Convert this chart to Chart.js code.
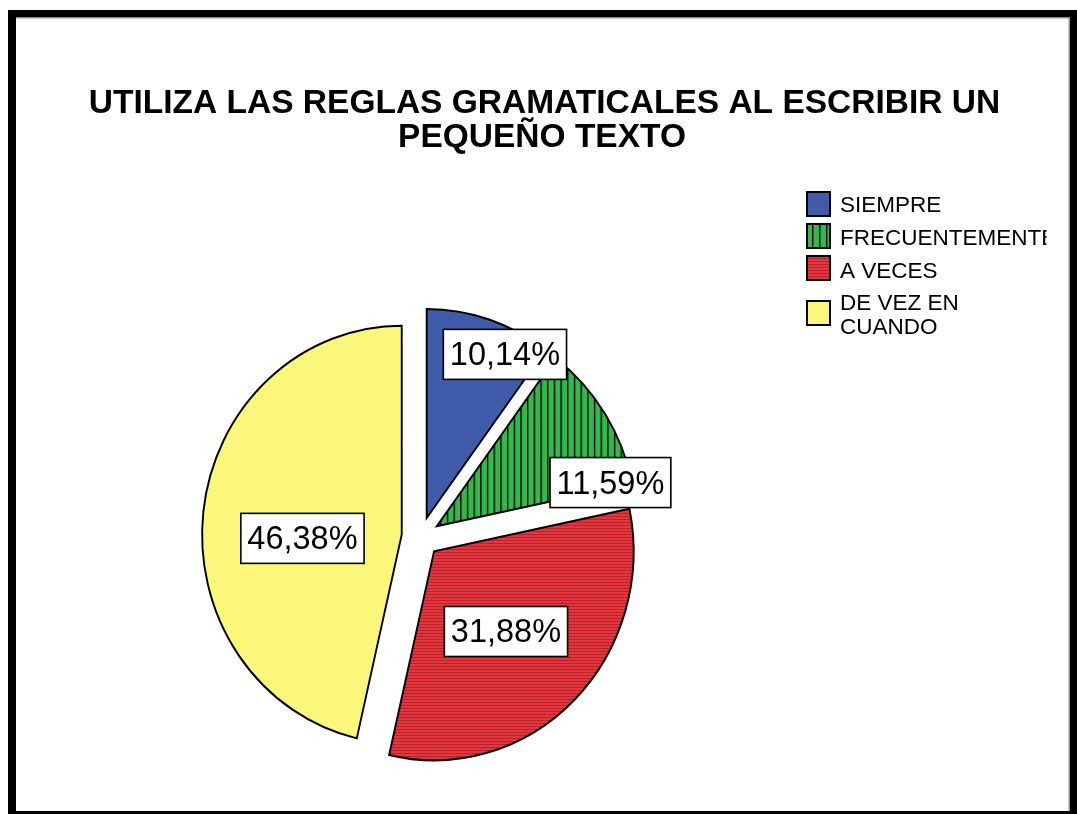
<!DOCTYPE html>
<html><head><meta charset="utf-8">
<script src="https://cdn.jsdelivr.net/npm/chart.js@4.4.0/dist/chart.umd.min.js"></script>
<style>html,body{margin:0;padding:0;background:#fff;}#wrap{width:1077px;height:814px;position:relative;}canvas{display:block;}</style>
</head><body><div id="wrap"><canvas id="c" width="1077" height="814"></canvas></div>
<script>
// ---- data ----
const categories = ['SIEMPRE', 'FRECUENTEMENTE', 'A VECES', 'DE VEZ EN CUANDO'];
const percentages = [10.14, 11.59, 31.88, 46.38];
const valueLabels = ['10,14%', '11,59%', '31,88%', '46,38%'];
const legendLines = [['SIEMPRE'], ['FRECUENTEMENTE'], ['A VECES'], ['DE VEZ EN', 'CUANDO']];
const titleLines = ['UTILIZA LAS REGLAS GRAMATICALES AL ESCRIBIR UN', 'PEQUEÑO TEXTO'];

// ---- style ----
const FONT = '"Liberation Sans", Arial, Helvetica, sans-serif';
const SQUASH = 0.955;   // horizontal stretch of the original picture
const EXPLODE = 20;     // slice explode distance
const labelPlacement = [{deg: 26.6, dist: 183}, {deg: 76.5, dist: 187}, {deg: 136.8, dist: 110}, {deg: 268, dist: 104}];

function stripes(base, line, w, h, vertical) {
  const c = document.createElement('canvas'); c.width = w; c.height = h;
  const x = c.getContext('2d');
  x.fillStyle = base; x.fillRect(0, 0, w, h);
  x.fillStyle = line;
  if (vertical) x.fillRect(0, 0, 1.4, h); else x.fillRect(0, 0, w, 1);
  return document.createElement('canvas').getContext('2d').createPattern(c, 'repeat');
}
const BLUE = '#3F5BAA', YELLOW = '#FBF77A';
const GREEN_PAT = stripes('#33B84B', '#000000', 7, 7, true);
const RED_PAT = stripes('#E5363F', '#B5242D', 3, 3, false);

const pieLayout = {
  id: 'pieLayout',
  beforeDatasetsDraw(chart) {
    const ca = chart.chartArea;
    const cx = (ca.left + ca.right) / 2, cy = (ca.top + ca.bottom) / 2;
    chart.getDatasetMeta(0).data.forEach(a => {
      const m = (a.startAngle + a.endAngle) / 2;
      a.x = cx + Math.cos(m) * EXPLODE;
      a.y = cy + Math.sin(m) * EXPLODE;
    });
    const ctx = chart.ctx;
    ctx.save();
    ctx.translate(cx, 0); ctx.scale(SQUASH, 1); ctx.translate(-cx, 0);
  },
  afterDatasetsDraw(chart) { chart.ctx.restore(); }
};

const decorations = {
  id: 'decorations',
  afterDraw(chart) {
    const ctx = chart.ctx;
    const ca = chart.chartArea;
    const cx = (ca.left + ca.right) / 2;
    ctx.save();
    // title
    ctx.fillStyle = '#000';
    ctx.textAlign = 'center'; ctx.textBaseline = 'alphabetic';
    ctx.font = 'bold 33.5px ' + FONT;
    ctx.fillText(titleLines[0], 544.5, 113);
    ctx.fillText(titleLines[1], 542, 147);

    // value labels
    ctx.font = '32.5px ' + FONT;
    ctx.textBaseline = 'middle';
    chart.getDatasetMeta(0).data.forEach((a, i) => {
      const p = labelPlacement[i];
      const r = p.deg * Math.PI / 180;
      const lx = cx + (a.x - cx + Math.sin(r) * p.dist) * SQUASH;
      const ly = a.y - Math.cos(r) * p.dist;
      const tw = ctx.measureText(valueLabels[i]).width;
      const bw = tw + 13, bh = 50;
      ctx.fillStyle = '#fff';
      ctx.fillRect(lx - bw / 2, ly - bh / 2, bw, bh);
      ctx.lineWidth = 1.6; ctx.strokeStyle = '#000';
      ctx.strokeRect(lx - bw / 2, ly - bh / 2, bw, bh);
      ctx.fillStyle = '#000';
      ctx.fillText(valueLabels[i], lx, ly + 2);
    });

    // legend
    const fills = [BLUE, GREEN_PAT, RED_PAT, YELLOW];
    const boxTops = [192, 224, 256, 301];
    const baselines = [[212], [245], [277.5], [310, 333.5]];
    ctx.save();
    ctx.beginPath(); ctx.rect(0, 0, 1046.5, 814); ctx.clip();
    ctx.textAlign = 'left'; ctx.textBaseline = 'alphabetic';
    ctx.font = '22.5px ' + FONT;
    for (let i = 0; i < categories.length; i++) {
      ctx.fillStyle = fills[i];
      ctx.fillRect(807, boxTops[i], 23, 24);
      ctx.lineWidth = 2; ctx.strokeStyle = '#000';
      ctx.strokeRect(807, boxTops[i], 23, 24);
      ctx.fillStyle = '#000';
      legendLines[i].forEach((t, k) => ctx.fillText(t, 840, baselines[i][k]));
    }
    ctx.restore();

    // frame
    ctx.fillStyle = '#000';
    ctx.fillRect(8, 10, 1069, 7.5);
    ctx.fillRect(8, 10, 8, 804);
    ctx.fillRect(1070, 10, 7, 804);
    ctx.fillRect(8, 811, 1069, 3);
    ctx.fillStyle = '#9a9a9a';
    ctx.fillRect(16, 17.5, 1054, 1);
    ctx.fillRect(1068.5, 17.5, 1.5, 793.5);
    ctx.restore();
  }
};

new Chart(document.getElementById('c'), {
  type: 'pie',
  data: {
    labels: categories,
    datasets: [{
      data: percentages,
      backgroundColor: [BLUE, GREEN_PAT, RED_PAT, YELLOW],
      borderColor: '#000',
      borderWidth: 2,
      borderJoinStyle: 'miter',
      radius: 209,
      offset: 0,
      hoverOffset: 0
    }]
  },
  options: {
    responsive: false,
    animation: false,
    events: [],
    layout: {padding: {left: 100, right: 335.6, top: 280, bottom: 20}},
    plugins: {legend: {display: false}, title: {display: false}, tooltip: {enabled: false}}
  },
  plugins: [pieLayout, decorations]
});
</script>
</body></html>
